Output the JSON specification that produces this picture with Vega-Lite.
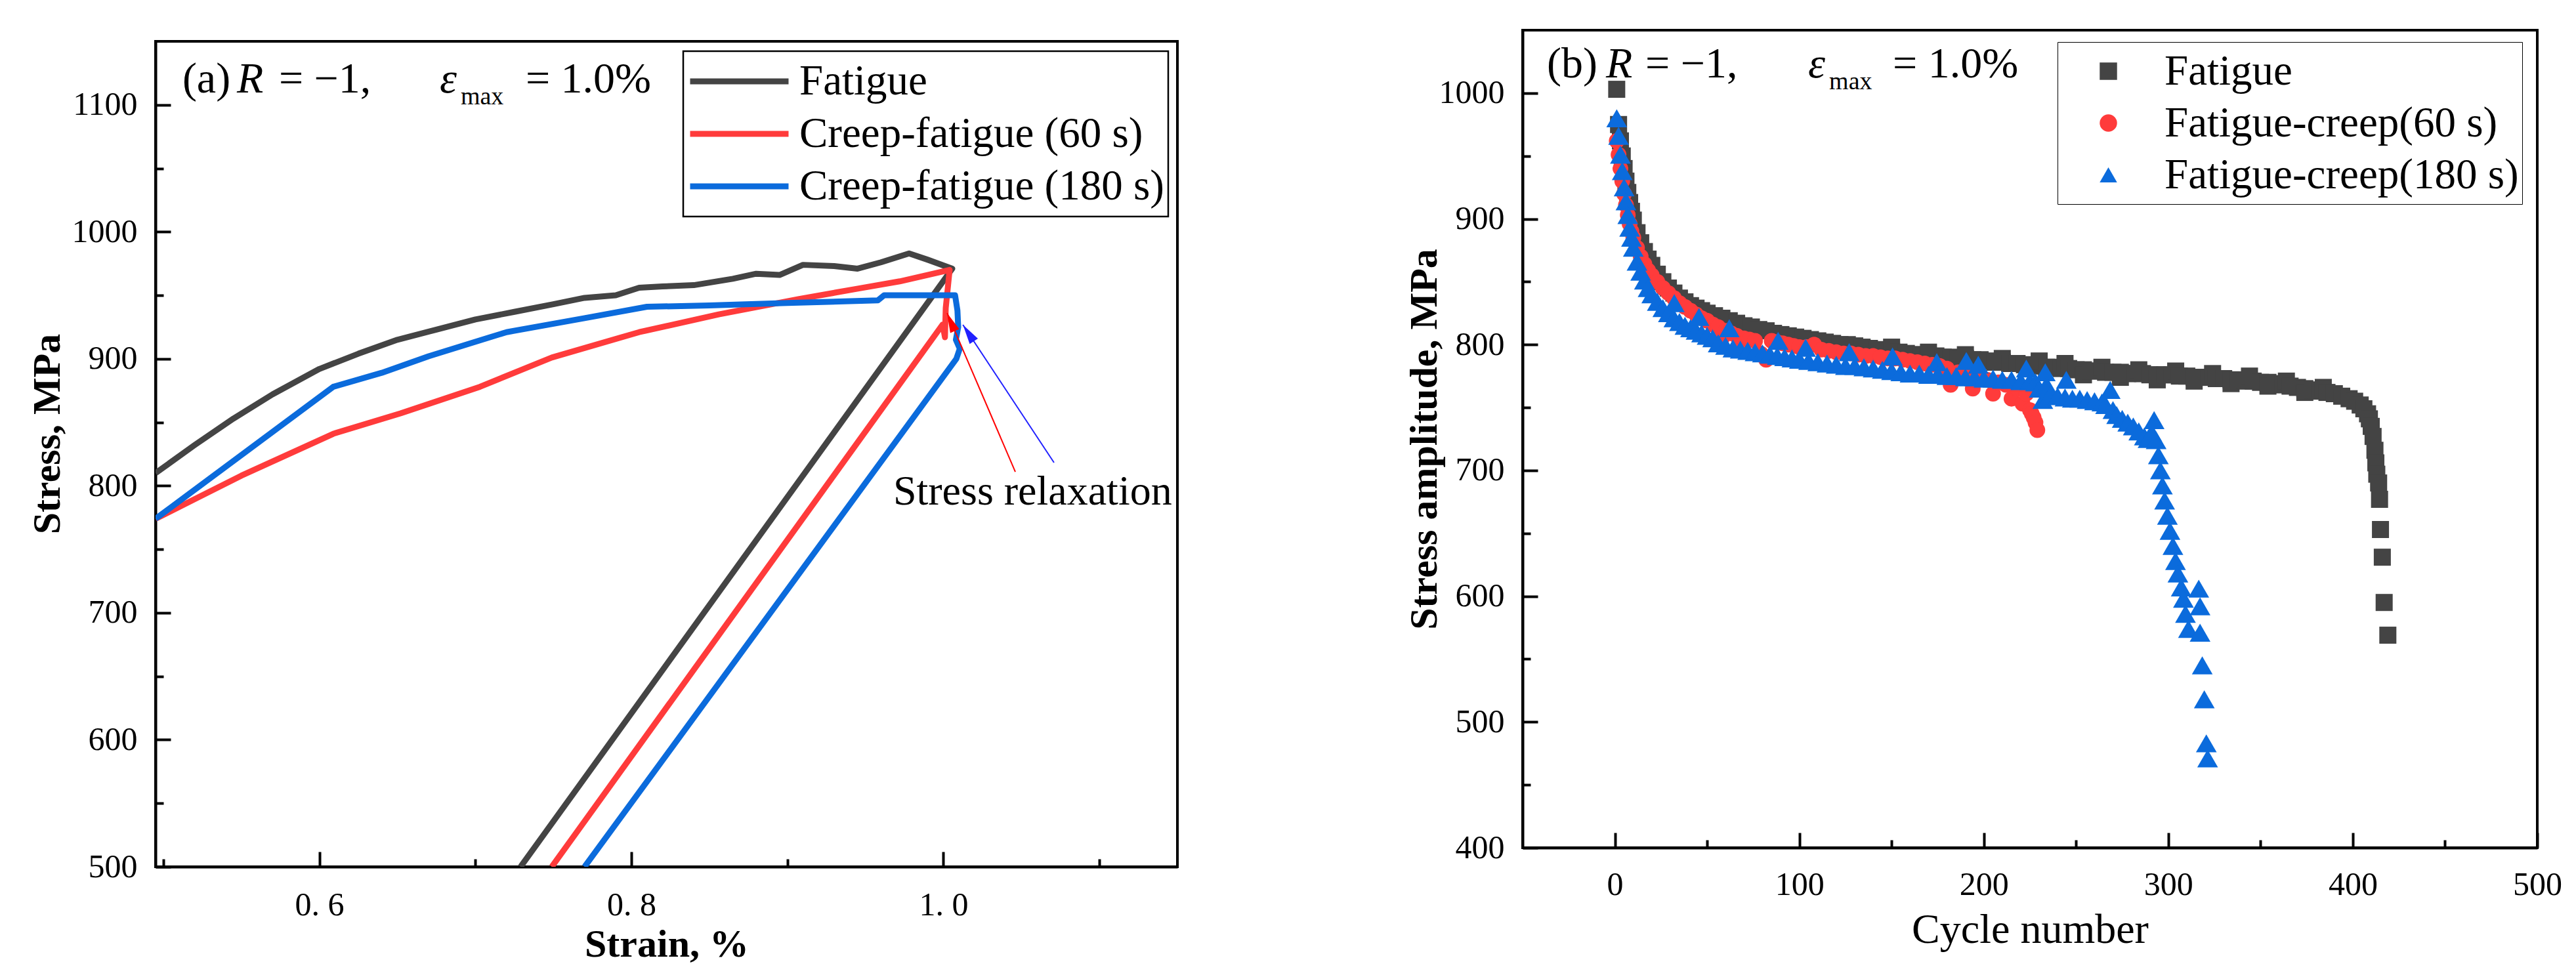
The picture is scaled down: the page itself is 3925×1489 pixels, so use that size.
{
  "$schema": "https://vega.github.io/schema/vega-lite/v6.json",
  "background": "white",
  "padding": {"left": 40, "top": 44, "right": 10, "bottom": 10},
  "spacing": 342,
  "resolve": {"scale": {"color": "independent", "shape": "independent"}},
  "config": {
    "font": "Liberation Serif",
    "view": {"stroke": "black", "strokeWidth": 4},
    "axis": {
      "grid": false, "domainColor": "black", "domainWidth": 4,
      "tickColor": "black", "tickWidth": 4,
      "labelColor": "black", "labelFont": "Liberation Serif", "labelFontSize": 50,
      "titleColor": "black", "titleFont": "Liberation Serif", "titleFontSize": 60, "titleFontWeight": "bold",
      "labelFlush": false, "labelOverlap": false
    },
    "legend": {"labelFont": "Liberation Serif", "labelColor": "black", "labelLimit": 2000},
    "text": {"font": "Liberation Serif", "color": "black"}
  },
  "datasets": {
    "fatigueCurve": [
      {"strain": 0.495, "stress": 810}, {"strain": 0.52, "stress": 832}, {"strain": 0.545, "stress": 853},
      {"strain": 0.57, "stress": 872}, {"strain": 0.6, "stress": 892}, {"strain": 0.625, "stress": 904},
      {"strain": 0.65, "stress": 915}, {"strain": 0.675, "stress": 923}, {"strain": 0.7, "stress": 931},
      {"strain": 0.725, "stress": 937}, {"strain": 0.75, "stress": 943}, {"strain": 0.77, "stress": 948},
      {"strain": 0.79, "stress": 950}, {"strain": 0.805, "stress": 956}, {"strain": 0.82, "stress": 957},
      {"strain": 0.84, "stress": 958}, {"strain": 0.865, "stress": 963}, {"strain": 0.88, "stress": 967},
      {"strain": 0.895, "stress": 966}, {"strain": 0.91, "stress": 974}, {"strain": 0.93, "stress": 973},
      {"strain": 0.945, "stress": 971}, {"strain": 0.96, "stress": 976}, {"strain": 0.978, "stress": 983},
      {"strain": 0.99, "stress": 978}, {"strain": 1.0057, "stress": 971}, {"strain": 0.729, "stress": 500}
    ],
    "creep60Curve": [
      {"strain": 0.495, "stress": 774}, {"strain": 0.55, "stress": 808}, {"strain": 0.609, "stress": 841},
      {"strain": 0.652, "stress": 857}, {"strain": 0.703, "stress": 878}, {"strain": 0.749, "stress": 901},
      {"strain": 0.805, "stress": 921}, {"strain": 0.856, "stress": 935}, {"strain": 0.907, "stress": 947},
      {"strain": 0.944, "stress": 955}, {"strain": 0.972, "stress": 961}, {"strain": 1.004, "stress": 970},
      {"strain": 1.0015, "stress": 940}, {"strain": 1.001, "stress": 917}, {"strain": 0.9995, "stress": 927},
      {"strain": 0.749, "stress": 500}
    ],
    "creep180Curve": [
      {"strain": 0.495, "stress": 774}, {"strain": 0.609, "stress": 878}, {"strain": 0.64, "stress": 889},
      {"strain": 0.67, "stress": 902}, {"strain": 0.72, "stress": 921}, {"strain": 0.77, "stress": 932},
      {"strain": 0.81, "stress": 941}, {"strain": 0.85, "stress": 942}, {"strain": 0.9, "stress": 944},
      {"strain": 0.958, "stress": 946}, {"strain": 0.962, "stress": 950}, {"strain": 1.0075, "stress": 950},
      {"strain": 1.009, "stress": 938}, {"strain": 1.0095, "stress": 925}, {"strain": 1.008, "stress": 915},
      {"strain": 1.0105, "stress": 908}, {"strain": 1.0083, "stress": 900}, {"strain": 0.77, "stress": 500}
    ],
    "fatigueAmp": [
      {"n": 1, "s": 1003}, {"n": 2, "s": 975}, {"n": 3, "s": 962}, {"n": 4, "s": 950}, {"n": 5, "s": 940},
      {"n": 6, "s": 930}, {"n": 7, "s": 921}, {"n": 8, "s": 913}, {"n": 9, "s": 906}, {"n": 10, "s": 899},
      {"n": 12, "s": 889}, {"n": 14, "s": 881}, {"n": 16, "s": 874}, {"n": 18, "s": 868}, {"n": 20, "s": 863},
      {"n": 23, "s": 856}, {"n": 26, "s": 850}, {"n": 29, "s": 845}, {"n": 32, "s": 841}, {"n": 35, "s": 837},
      {"n": 38, "s": 834}, {"n": 41, "s": 831}, {"n": 44, "s": 829}, {"n": 47, "s": 827}, {"n": 50, "s": 825},
      {"n": 54, "s": 823}, {"n": 58, "s": 821}, {"n": 62, "s": 819}, {"n": 66, "s": 817}, {"n": 70, "s": 815},
      {"n": 74, "s": 814}, {"n": 78, "s": 812}, {"n": 82, "s": 811}, {"n": 86, "s": 809}, {"n": 90, "s": 808},
      {"n": 94, "s": 807}, {"n": 98, "s": 806}, {"n": 102, "s": 805}, {"n": 106, "s": 804}, {"n": 110, "s": 803},
      {"n": 114, "s": 802}, {"n": 118, "s": 801}, {"n": 122, "s": 800}, {"n": 126, "s": 800}, {"n": 130, "s": 799},
      {"n": 134, "s": 798}, {"n": 138, "s": 797}, {"n": 142, "s": 796}, {"n": 146, "s": 796}, {"n": 150, "s": 795},
      {"n": 150, "s": 798}, {"n": 154, "s": 794}, {"n": 158, "s": 793}, {"n": 162, "s": 792}, {"n": 166, "s": 792},
      {"n": 170, "s": 791}, {"n": 170, "s": 794}, {"n": 174, "s": 791}, {"n": 178, "s": 790}, {"n": 182, "s": 790},
      {"n": 186, "s": 789}, {"n": 190, "s": 789}, {"n": 190, "s": 792}, {"n": 194, "s": 788}, {"n": 198, "s": 788},
      {"n": 202, "s": 787}, {"n": 206, "s": 786}, {"n": 210, "s": 786}, {"n": 210, "s": 789}, {"n": 214, "s": 785},
      {"n": 218, "s": 785}, {"n": 222, "s": 784}, {"n": 226, "s": 784}, {"n": 230, "s": 783}, {"n": 230, "s": 787},
      {"n": 234, "s": 782}, {"n": 238, "s": 782}, {"n": 242, "s": 781}, {"n": 244, "s": 785}, {"n": 246, "s": 781},
      {"n": 250, "s": 780}, {"n": 254, "s": 780}, {"n": 254, "s": 776}, {"n": 258, "s": 779}, {"n": 262, "s": 779},
      {"n": 264, "s": 782}, {"n": 266, "s": 778}, {"n": 270, "s": 778}, {"n": 274, "s": 778}, {"n": 274, "s": 774},
      {"n": 278, "s": 777}, {"n": 282, "s": 777}, {"n": 284, "s": 780}, {"n": 286, "s": 777}, {"n": 290, "s": 776},
      {"n": 294, "s": 776}, {"n": 294, "s": 772}, {"n": 298, "s": 776}, {"n": 302, "s": 776}, {"n": 304, "s": 779},
      {"n": 306, "s": 775}, {"n": 310, "s": 775}, {"n": 314, "s": 774}, {"n": 314, "s": 771}, {"n": 318, "s": 774},
      {"n": 322, "s": 774}, {"n": 324, "s": 777}, {"n": 326, "s": 773}, {"n": 330, "s": 773}, {"n": 334, "s": 772},
      {"n": 334, "s": 769}, {"n": 338, "s": 772}, {"n": 342, "s": 771}, {"n": 344, "s": 775}, {"n": 346, "s": 771},
      {"n": 350, "s": 770}, {"n": 354, "s": 770}, {"n": 354, "s": 767}, {"n": 358, "s": 769}, {"n": 362, "s": 768},
      {"n": 364, "s": 771}, {"n": 366, "s": 767}, {"n": 370, "s": 766}, {"n": 374, "s": 765}, {"n": 374, "s": 762},
      {"n": 378, "s": 764}, {"n": 382, "s": 763}, {"n": 384, "s": 766}, {"n": 386, "s": 762}, {"n": 390, "s": 761},
      {"n": 394, "s": 759}, {"n": 398, "s": 757}, {"n": 401, "s": 755}, {"n": 404, "s": 752}, {"n": 406, "s": 749},
      {"n": 408, "s": 745}, {"n": 409, "s": 741}, {"n": 410, "s": 735}, {"n": 411, "s": 727}, {"n": 412, "s": 716},
      {"n": 412.5, "s": 706}, {"n": 413, "s": 697}, {"n": 414, "s": 690}, {"n": 414.5, "s": 677}, {"n": 415, "s": 653},
      {"n": 416, "s": 631}, {"n": 417, "s": 595}, {"n": 419, "s": 569}
    ],
    "creep60Amp": [
      {"n": 1, "s": 962}, {"n": 2, "s": 951}, {"n": 3, "s": 940}, {"n": 4, "s": 930}, {"n": 5, "s": 920},
      {"n": 6, "s": 911}, {"n": 7, "s": 903}, {"n": 8, "s": 896}, {"n": 9, "s": 890}, {"n": 10, "s": 885},
      {"n": 12, "s": 877}, {"n": 14, "s": 870}, {"n": 16, "s": 864}, {"n": 18, "s": 859}, {"n": 20, "s": 855},
      {"n": 23, "s": 850}, {"n": 26, "s": 845}, {"n": 29, "s": 841}, {"n": 32, "s": 837}, {"n": 35, "s": 833},
      {"n": 38, "s": 830}, {"n": 41, "s": 827}, {"n": 44, "s": 824}, {"n": 47, "s": 821}, {"n": 50, "s": 819},
      {"n": 53, "s": 816}, {"n": 56, "s": 814}, {"n": 58, "s": 805}, {"n": 60, "s": 811}, {"n": 63, "s": 809},
      {"n": 66, "s": 807}, {"n": 68, "s": 799}, {"n": 70, "s": 805}, {"n": 73, "s": 804}, {"n": 76, "s": 803},
      {"n": 79, "s": 793}, {"n": 82, "s": 788}, {"n": 85, "s": 803}, {"n": 88, "s": 802}, {"n": 91, "s": 801},
      {"n": 94, "s": 800}, {"n": 97, "s": 799}, {"n": 100, "s": 798}, {"n": 104, "s": 798}, {"n": 108, "s": 800},
      {"n": 112, "s": 796}, {"n": 116, "s": 795}, {"n": 120, "s": 794}, {"n": 124, "s": 793}, {"n": 128, "s": 793},
      {"n": 132, "s": 792}, {"n": 136, "s": 791}, {"n": 140, "s": 791}, {"n": 144, "s": 790}, {"n": 148, "s": 789},
      {"n": 152, "s": 789}, {"n": 156, "s": 788}, {"n": 160, "s": 787}, {"n": 164, "s": 786}, {"n": 168, "s": 785},
      {"n": 172, "s": 784}, {"n": 176, "s": 783}, {"n": 180, "s": 781}, {"n": 182, "s": 768}, {"n": 186, "s": 778},
      {"n": 190, "s": 776}, {"n": 194, "s": 765}, {"n": 198, "s": 774}, {"n": 202, "s": 772}, {"n": 205, "s": 761},
      {"n": 208, "s": 770}, {"n": 212, "s": 768}, {"n": 215, "s": 757}, {"n": 218, "s": 765}, {"n": 221, "s": 753},
      {"n": 223, "s": 761}, {"n": 225, "s": 748}, {"n": 226, "s": 745}, {"n": 227, "s": 742}, {"n": 228, "s": 738},
      {"n": 229, "s": 732}
    ],
    "creep180Amp": [
      {"n": 1, "s": 980}, {"n": 2, "s": 966}, {"n": 3, "s": 951}, {"n": 4, "s": 938}, {"n": 5, "s": 925},
      {"n": 6, "s": 914}, {"n": 7, "s": 903}, {"n": 8, "s": 893}, {"n": 9, "s": 885}, {"n": 10, "s": 877},
      {"n": 12, "s": 866}, {"n": 14, "s": 858}, {"n": 16, "s": 851}, {"n": 18, "s": 845}, {"n": 20, "s": 840},
      {"n": 23, "s": 834}, {"n": 26, "s": 829}, {"n": 29, "s": 825}, {"n": 32, "s": 821}, {"n": 32.2, "s": 833},
      {"n": 35, "s": 818}, {"n": 38, "s": 815}, {"n": 41, "s": 813}, {"n": 44, "s": 811}, {"n": 45.6, "s": 822},
      {"n": 47, "s": 809}, {"n": 50, "s": 807}, {"n": 53, "s": 805}, {"n": 56, "s": 801}, {"n": 60, "s": 799},
      {"n": 62, "s": 813}, {"n": 64, "s": 797}, {"n": 68, "s": 796}, {"n": 72, "s": 795}, {"n": 76, "s": 794},
      {"n": 80, "s": 793}, {"n": 84, "s": 792}, {"n": 88, "s": 791}, {"n": 88.5, "s": 803}, {"n": 92, "s": 790},
      {"n": 96, "s": 789}, {"n": 100, "s": 788}, {"n": 103.4, "s": 797.5}, {"n": 105, "s": 787}, {"n": 110, "s": 786},
      {"n": 115, "s": 785}, {"n": 120, "s": 784}, {"n": 125, "s": 783}, {"n": 127, "s": 794}, {"n": 130, "s": 783},
      {"n": 135, "s": 782}, {"n": 140, "s": 781}, {"n": 145, "s": 780}, {"n": 150, "s": 779}, {"n": 150.5, "s": 790.6},
      {"n": 155, "s": 778}, {"n": 160, "s": 777}, {"n": 165, "s": 777}, {"n": 170, "s": 776}, {"n": 174.5, "s": 786},
      {"n": 175, "s": 776}, {"n": 180, "s": 775}, {"n": 185, "s": 775}, {"n": 190, "s": 774}, {"n": 190.5, "s": 787},
      {"n": 195, "s": 774}, {"n": 197, "s": 784}, {"n": 200, "s": 773}, {"n": 205, "s": 773}, {"n": 210, "s": 772},
      {"n": 215, "s": 772}, {"n": 220, "s": 771}, {"n": 223, "s": 781}, {"n": 225, "s": 771}, {"n": 228, "s": 770},
      {"n": 230, "s": 765}, {"n": 232, "s": 756}, {"n": 233.3, "s": 778}, {"n": 234, "s": 768}, {"n": 236, "s": 760},
      {"n": 240, "s": 759}, {"n": 244, "s": 758}, {"n": 244.7, "s": 772}, {"n": 248, "s": 757}, {"n": 252, "s": 757},
      {"n": 256, "s": 756}, {"n": 260, "s": 755}, {"n": 264, "s": 754}, {"n": 266, "s": 752}, {"n": 268.5, "s": 764},
      {"n": 270, "s": 748}, {"n": 272, "s": 744}, {"n": 275, "s": 741}, {"n": 278, "s": 738}, {"n": 281, "s": 735},
      {"n": 284, "s": 731}, {"n": 287, "s": 727}, {"n": 289, "s": 725}, {"n": 291, "s": 730}, {"n": 292.3, "s": 740},
      {"n": 293.4, "s": 724}, {"n": 294.6, "s": 712}, {"n": 295.7, "s": 700}, {"n": 296.8, "s": 688}, {"n": 298, "s": 676},
      {"n": 299.5, "s": 664}, {"n": 300.9, "s": 652}, {"n": 302.5, "s": 640}, {"n": 303.9, "s": 628}, {"n": 305.2, "s": 618},
      {"n": 307, "s": 607}, {"n": 308.2, "s": 598}, {"n": 309.3, "s": 586}, {"n": 310.9, "s": 574}, {"n": 316.5, "s": 606},
      {"n": 317.2, "s": 592}, {"n": 317.2, "s": 571}, {"n": 318.4, "s": 545}, {"n": 319.5, "s": 518}, {"n": 320.6, "s": 483},
      {"n": 321.3, "s": 471}
    ]
  },
  "hconcat": [
    {
      "spacing": 14,
      "vconcat": [
        {
          "width": 1557,
          "height": 1,
          "view": {"stroke": null},
          "data": {"values": [{}]},
          "mark": {"type": "point", "opacity": 0, "size": 0},
          "encoding": {}
        },
        {
          "width": 1557,
          "height": 1258,
          "resolve": {"axis": {"x": "independent", "y": "independent"}},
          "layer": [
            {
              "data": {"name": "fatigueCurve"},
              "mark": {"type": "line", "strokeWidth": 9, "strokeJoin": "round", "clip": true},
              "encoding": {
                "x": {
                  "field": "strain", "type": "quantitative",
                  "scale": {"domain": [0.495, 1.15], "nice": false, "zero": false},
                  "axis": {
                    "orient": "bottom", "values": [0.6, 0.8, 1.0],
                    "labelExpr": "replace(format(datum.value, '.1f'), '.', '. ')",
                    "labelFont": "Liberation Serif", "titleFont": "Liberation Serif",
                    "tickSize": -23, "labelPadding": 56,
                    "title": "Strain, %", "titlePadding": 6
                  }
                },
                "y": {
                  "field": "stress", "type": "quantitative",
                  "scale": {"domain": [500, 1150], "nice": false, "zero": false},
                  "axis": {
                    "orient": "left", "values": [500, 600, 700, 800, 900, 1000, 1100], "format": "d",
                    "labelFont": "Liberation Serif", "titleFont": "Liberation Serif",
                    "tickSize": -23, "labelPadding": 51,
                    "title": "Stress, MPa", "titlePadding": 6, "titleY": 598
                  }
                },
                "color": {
                  "datum": "Fatigue",
                  "scale": {
                    "domain": ["Fatigue", "Creep-fatigue (60 s)", "Creep-fatigue (180 s)"],
                    "range": ["#444444", "#ff3b3b", "#0b6bdc"]
                  },
                  "legend": {
                    "orient": "none", "legendX": 804, "legendY": 32, "title": null,
                    "symbolType": "stroke", "symbolSize": 22500, "symbolStrokeWidth": 9,
                    "labelFont": "Liberation Serif", "labelFontSize": 65, "labelOffset": 12, "clipHeight": 80, "rowPadding": 0,
                    "padding": 6, "strokeColor": "black", "fillColor": "white",
                    "encode": {"legend": {"update": {"strokeWidth": {"value": 2.5}}}}
                  }
                },
                "order": {"value": null}
              }
            },
            {
              "data": {"name": "creep60Curve"},
              "mark": {"type": "line", "strokeWidth": 9, "strokeJoin": "round", "clip": true},
              "encoding": {
                "x": {"field": "strain", "type": "quantitative", "axis": null},
                "y": {"field": "stress", "type": "quantitative", "axis": null},
                "color": {"datum": "Creep-fatigue (60 s)"},
                "order": {"value": null}
              }
            },
            {
              "data": {"name": "creep180Curve"},
              "mark": {"type": "line", "strokeWidth": 9, "strokeJoin": "round", "clip": true},
              "encoding": {
                "x": {"field": "strain", "type": "quantitative", "axis": null},
                "y": {"field": "stress", "type": "quantitative", "axis": null},
                "color": {"datum": "Creep-fatigue (180 s)"},
                "order": {"value": null}
              }
            },
            {
              "data": {"values": [{}]},
              "mark": {"type": "rule", "color": "#ff0000", "strokeWidth": 2},
              "encoding": {
                "x": {"datum": 1.0461, "type": "quantitative", "axis": null},
                "y": {"datum": 811, "type": "quantitative", "axis": null},
                "x2": {"datum": 1.0024},
                "y2": {"datum": 936}
              }
            },
            {
              "data": {"values": [{}]},
              "mark": {"type": "rule", "color": "#2020ff", "strokeWidth": 2},
              "encoding": {
                "x": {"datum": 1.0709, "type": "quantitative", "axis": null},
                "y": {"datum": 818.3, "type": "quantitative", "axis": null},
                "x2": {"datum": 1.0125},
                "y2": {"datum": 926.8}
              }
            },
            {
              "data": {"values": [{}]},
              "mark": {"type": "point", "shape": "M0,-1L0.5,1L-0.5,1Z", "filled": true, "opacity": 1, "size": 900, "angle": 336.7, "color": "#ff0000"},
              "encoding": {
                "x": {"datum": 1.0048, "type": "quantitative", "axis": null},
                "y": {"datum": 929, "type": "quantitative", "axis": null}
              }
            },
            {
              "data": {"values": [{}]},
              "mark": {"type": "point", "shape": "M0,-1L0.5,1L-0.5,1Z", "filled": true, "opacity": 1, "size": 900, "angle": 326.5, "color": "#2020ff"},
              "encoding": {
                "x": {"datum": 1.016, "type": "quantitative", "axis": null},
                "y": {"datum": 920.3, "type": "quantitative", "axis": null}
              }
            },
            {
              "data": {"values": [{}]},
              "mark": {"type": "text", "text": "Stress relaxation", "font": "Liberation Serif", "fontSize": 64, "align": "left", "baseline": "alphabetic"},
              "encoding": {
                "x": {"datum": 0.9678, "type": "quantitative", "axis": null},
                "y": {"datum": 785.2, "type": "quantitative", "axis": null}
              }
            },
            {
              "data": {"values": [{}]},
              "mark": {"type": "text", "text": "(a)", "font": "Liberation Serif", "fontSize": 66, "align": "left", "baseline": "alphabetic"},
              "encoding": {
                "x": {
                  "datum": 0.5122, "type": "quantitative",
                  "axis": {"orient": "bottom", "values": [0.5, 0.7, 0.9, 1.1], "tickSize": -12, "labels": false, "domain": false, "title": null}
                },
                "y": {
                  "datum": 1109.7, "type": "quantitative",
                  "axis": {"orient": "left", "values": [550, 650, 750, 850, 950, 1050], "tickSize": -12, "labels": false, "domain": false, "title": null}
                }
              }
            },
            {
              "data": {"values": [{}]},
              "mark": {"type": "text", "text": "R", "font": "Liberation Serif", "fontStyle": "italic", "fontSize": 66, "align": "left", "baseline": "alphabetic", "dx": 83},
              "encoding": {
                "x": {"datum": 0.5122, "type": "quantitative", "axis": null},
                "y": {"datum": 1109.7, "type": "quantitative", "axis": null}
              }
            },
            {
              "data": {"values": [{}]},
              "mark": {"type": "text", "text": "= −1,", "font": "Liberation Serif", "fontSize": 66, "align": "left", "baseline": "alphabetic", "dx": 147},
              "encoding": {
                "x": {"datum": 0.5122, "type": "quantitative", "axis": null},
                "y": {"datum": 1109.7, "type": "quantitative", "axis": null}
              }
            },
            {
              "data": {"values": [{}]},
              "mark": {"type": "text", "text": "ε", "font": "Liberation Serif", "fontStyle": "italic", "fontSize": 66, "align": "left", "baseline": "alphabetic", "dx": 392},
              "encoding": {
                "x": {"datum": 0.5122, "type": "quantitative", "axis": null},
                "y": {"datum": 1109.7, "type": "quantitative", "axis": null}
              }
            },
            {
              "data": {"values": [{}]},
              "mark": {"type": "text", "text": "max", "font": "Liberation Serif", "fontSize": 38, "align": "left", "baseline": "alphabetic", "dx": 424, "dy": 18},
              "encoding": {
                "x": {"datum": 0.5122, "type": "quantitative", "axis": null},
                "y": {"datum": 1109.7, "type": "quantitative", "axis": null}
              }
            },
            {
              "data": {"values": [{}]},
              "mark": {"type": "text", "text": "= 1.0%", "font": "Liberation Serif", "fontSize": 66, "align": "left", "baseline": "alphabetic", "dx": 523},
              "encoding": {
                "x": {"datum": 0.5122, "type": "quantitative", "axis": null},
                "y": {"datum": 1109.7, "type": "quantitative", "axis": null}
              }
            }
          ]
        }
      ]
    },
    {
      "width": 1546,
      "height": 1246,
      "resolve": {"axis": {"x": "independent", "y": "independent"}},
      "layer": [
        {
          "data": {"name": "fatigueAmp"},
          "mark": {"type": "point", "filled": true, "opacity": 1, "size": 676},
          "encoding": {
            "x": {
              "field": "n", "type": "quantitative",
              "scale": {"domain": [-50, 500], "nice": false, "zero": false},
              "axis": {
                "orient": "bottom", "values": [0, 100, 200, 300, 400, 500], "format": "d",
                "labelFont": "Liberation Serif", "titleFont": "Liberation Serif",
                "tickSize": -23, "labelPadding": 54,
                "title": "Cycle number", "titleFontWeight": "normal", "titleFontSize": 64, "titlePadding": 12
              }
            },
            "y": {
              "field": "s", "type": "quantitative",
              "scale": {"domain": [400, 1050], "nice": false, "zero": false},
              "axis": {
                "orient": "left", "values": [400, 500, 600, 700, 800, 900, 1000], "format": "d",
                "labelFont": "Liberation Serif", "titleFont": "Liberation Serif",
                "tickSize": -23, "labelPadding": 51,
                "title": "Stress amplitude, MPa", "titlePadding": -9
              }
            },
            "color": {
              "datum": "Fatigue",
              "scale": {
                "domain": ["Fatigue", "Fatigue-creep(60 s)", "Fatigue-creep(180 s)"],
                "range": ["#444444", "#ff3b3b", "#0b6bdc"]
              },
              "legend": {
                "orient": "none", "legendX": 815, "legendY": 18, "title": null,
                "symbolSize": 700, "symbolOffset": 40, "labelOffset": 53,
                "labelFont": "Liberation Serif", "labelFontSize": 65, "clipHeight": 79, "rowPadding": 0,
                "padding": 5, "strokeColor": "black", "fillColor": "white",
                "encode": {"legend": {"update": {"strokeWidth": {"value": 2.5}}}}
              }
            },
            "shape": {
              "datum": "Fatigue",
              "scale": {
                "domain": ["Fatigue", "Fatigue-creep(60 s)", "Fatigue-creep(180 s)"],
                "range": ["square", "circle", "triangle-up"]
              },
              "legend": {
                "orient": "none", "legendX": 815, "legendY": 18, "title": null,
                "symbolSize": 700, "symbolOffset": 40, "labelOffset": 53,
                "labelFont": "Liberation Serif", "labelFontSize": 65, "clipHeight": 79, "rowPadding": 0,
                "padding": 5, "strokeColor": "black", "fillColor": "white",
                "encode": {"legend": {"update": {"strokeWidth": {"value": 2.5}}}}
              }
            }
          }
        },
        {
          "data": {"name": "creep60Amp"},
          "mark": {"type": "point", "filled": true, "opacity": 1, "size": 573},
          "encoding": {
            "x": {"field": "n", "type": "quantitative", "axis": null},
            "y": {"field": "s", "type": "quantitative", "axis": null},
            "color": {"datum": "Fatigue-creep(60 s)"},
            "shape": {"datum": "Fatigue-creep(60 s)"}
          }
        },
        {
          "data": {"name": "creep180Amp"},
          "mark": {"type": "point", "filled": true, "opacity": 1, "size": 1000},
          "encoding": {
            "x": {"field": "n", "type": "quantitative", "axis": null},
            "y": {"field": "s", "type": "quantitative", "axis": null},
            "color": {"datum": "Fatigue-creep(180 s)"},
            "shape": {"datum": "Fatigue-creep(180 s)"}
          }
        },
        {
          "data": {"values": [{}]},
          "mark": {"type": "text", "text": "(b)", "font": "Liberation Serif", "fontSize": 66, "align": "left", "baseline": "alphabetic"},
          "encoding": {
            "x": {
              "datum": -36.8, "type": "quantitative",
              "axis": {"orient": "bottom", "values": [50, 150, 250, 350, 450], "tickSize": -12, "labels": false, "domain": false, "title": null}
            },
            "y": {
              "datum": 1012.4, "type": "quantitative",
              "axis": {"orient": "left", "values": [450, 550, 650, 750, 850, 950], "tickSize": -12, "labels": false, "domain": false, "title": null}
            }
          }
        },
        {
          "data": {"values": [{}]},
          "mark": {"type": "text", "text": "R", "font": "Liberation Serif", "fontStyle": "italic", "fontSize": 66, "align": "left", "baseline": "alphabetic", "dx": 90},
          "encoding": {
            "x": {"datum": -36.8, "type": "quantitative", "axis": null},
            "y": {"datum": 1012.4, "type": "quantitative", "axis": null}
          }
        },
        {
          "data": {"values": [{}]},
          "mark": {"type": "text", "text": "= −1,", "font": "Liberation Serif", "fontSize": 66, "align": "left", "baseline": "alphabetic", "dx": 150},
          "encoding": {
            "x": {"datum": -36.8, "type": "quantitative", "axis": null},
            "y": {"datum": 1012.4, "type": "quantitative", "axis": null}
          }
        },
        {
          "data": {"values": [{}]},
          "mark": {"type": "text", "text": "ε", "font": "Liberation Serif", "fontStyle": "italic", "fontSize": 66, "align": "left", "baseline": "alphabetic", "dx": 398},
          "encoding": {
            "x": {"datum": -36.8, "type": "quantitative", "axis": null},
            "y": {"datum": 1012.4, "type": "quantitative", "axis": null}
          }
        },
        {
          "data": {"values": [{}]},
          "mark": {"type": "text", "text": "max", "font": "Liberation Serif", "fontSize": 38, "align": "left", "baseline": "alphabetic", "dx": 430, "dy": 18},
          "encoding": {
            "x": {"datum": -36.8, "type": "quantitative", "axis": null},
            "y": {"datum": 1012.4, "type": "quantitative", "axis": null}
          }
        },
        {
          "data": {"values": [{}]},
          "mark": {"type": "text", "text": "= 1.0%", "font": "Liberation Serif", "fontSize": 66, "align": "left", "baseline": "alphabetic", "dx": 527},
          "encoding": {
            "x": {"datum": -36.8, "type": "quantitative", "axis": null},
            "y": {"datum": 1012.4, "type": "quantitative", "axis": null}
          }
        }
      ]
    }
  ]
}
